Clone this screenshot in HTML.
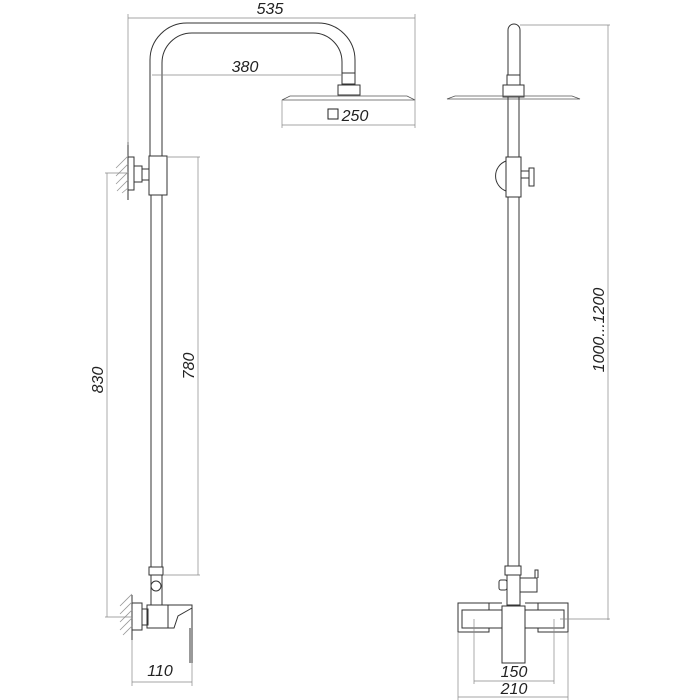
<!DOCTYPE html>
<html><head><style>body{margin:0;background:#fff}svg{display:block}</style></head><body>
<svg width="700" height="700" viewBox="0 0 700 700" xmlns="http://www.w3.org/2000/svg" font-family="Liberation Sans, sans-serif" font-style="italic">
<g fill="none" stroke="#333" stroke-width="1">
<path d="M150,156 V60 A37,37 0 0 1 187,23 H318 A37,37 0 0 1 355,60 V73"/>
<path d="M162,156 V63 A30,30 0 0 1 192,33 H313 A29,29 0 0 1 342,62 V73"/>
<rect x="342" y="73" width="13" height="11"/>
<rect x="338" y="85" width="22" height="10"/>
<path d="M282,100 L290,96 H407 L415,100 Z" stroke="#555" stroke-width="0.8"/>
<rect x="149" y="156" width="18" height="39"/>
<rect x="128" y="157" width="6" height="33"/>
<path d="M128,142 V200"/>
<rect x="134" y="166" width="8" height="16"/>
<rect x="142" y="169" width="7" height="11"/>
<path d="M151,195 V567 M162,195 V567"/>
<rect x="149" y="567" width="14" height="8"/>
<rect x="151" y="575" width="11" height="30"/>
<circle cx="156" cy="586" r="5"/>
<path d="M132,595 V640"/>
<rect x="132" y="603" width="10" height="27"/>
<rect x="142" y="609" width="6" height="16"/>
<rect x="147" y="605" width="21" height="23"/>
<path d="M168,605 H192 V663 M168,628 H174 L178,616 L192,608 M190,628 V663"/>
<path d="M508,75 V30 A6,6 0 0 1 520,30 V75"/>
<rect x="507" y="75" width="13" height="10"/>
<rect x="503" y="85" width="21" height="12"/>
<path d="M447,99 L455,96 H572 L580,99 Z" stroke="#555" stroke-width="0.8"/>
<path d="M508,97 V157 M519,97 V157"/>
<path d="M506,161 A16,16 0 0 0 506,191"/>
<rect x="506" y="157" width="15" height="40"/>
<rect x="521" y="171" width="8" height="7"/>
<rect x="529" y="168" width="5" height="18"/>
<path d="M508,197 V566 M519,197 V566"/>
<rect x="505" y="566" width="16" height="9"/>
<rect x="507" y="575" width="13" height="30"/>
<rect x="499" y="580" width="8" height="10" rx="2"/>
<rect x="520" y="578" width="17" height="14"/>
<path d="M535,578 V570 H538 V578"/>
<path d="M502,603 H458 V632 H489 V628 M489,603 V610"/>
<rect x="462" y="610" width="40" height="18"/>
<path d="M525,603 H568 V632 H538 V628 M538,603 V610"/>
<rect x="525" y="610" width="39" height="18"/>
<rect x="502" y="606" width="23" height="57"/>
</g>
<g stroke="#999" stroke-width="0.8">
<path d="M116,168 L128,156 M116,176 L128,164 M116,184 L128,172 M117,191 L128,180 M122,193 L128,188"/>
<path d="M120,606 L132,594 M120,614 L132,602 M120,622 L132,610 M120,630 L132,618 M123,635 L132,626"/>
</g>
<g fill="none" stroke="#888" stroke-width="0.7">
<path d="M128,18 H415 M128,14 V145 M415,14 V128"/>
<path d="M152,75 H342"/>
<path d="M282,125 H415 M282,100 V128"/>
<path d="M105,173 H128 M107,173 V617 M105,617 H132"/>
<path d="M167,157 H200 M198,157 V575 M163,575 H200"/>
<path d="M132,640 V686 M192,663 V686 M132,682 H192"/>
<path d="M520,25 H610 M608,25 V620 M560,619 H610"/>
<path d="M474,619 V684 M554,619 V684 M474,681 H554"/>
<path d="M458,632 V700 M568,632 V700 M458,697 H568"/>
</g>
<g fill="#222" font-size="16" text-anchor="middle">
<text x="270" y="14">535</text>
<text x="245" y="72">380</text>
<text x="355" y="121">250</text>
<text x="160" y="676">110</text>
<text x="514" y="677">150</text>
<text x="514" y="694">210</text>
<text transform="translate(103,380) rotate(-90)">830</text>
<text transform="translate(194,366) rotate(-90)">780</text>
<text transform="translate(604,330) rotate(-90)">1000...1200</text>
</g>
<rect x="328" y="109" width="10" height="10" fill="none" stroke="#222" stroke-width="1"/>
</svg>
</body></html>
